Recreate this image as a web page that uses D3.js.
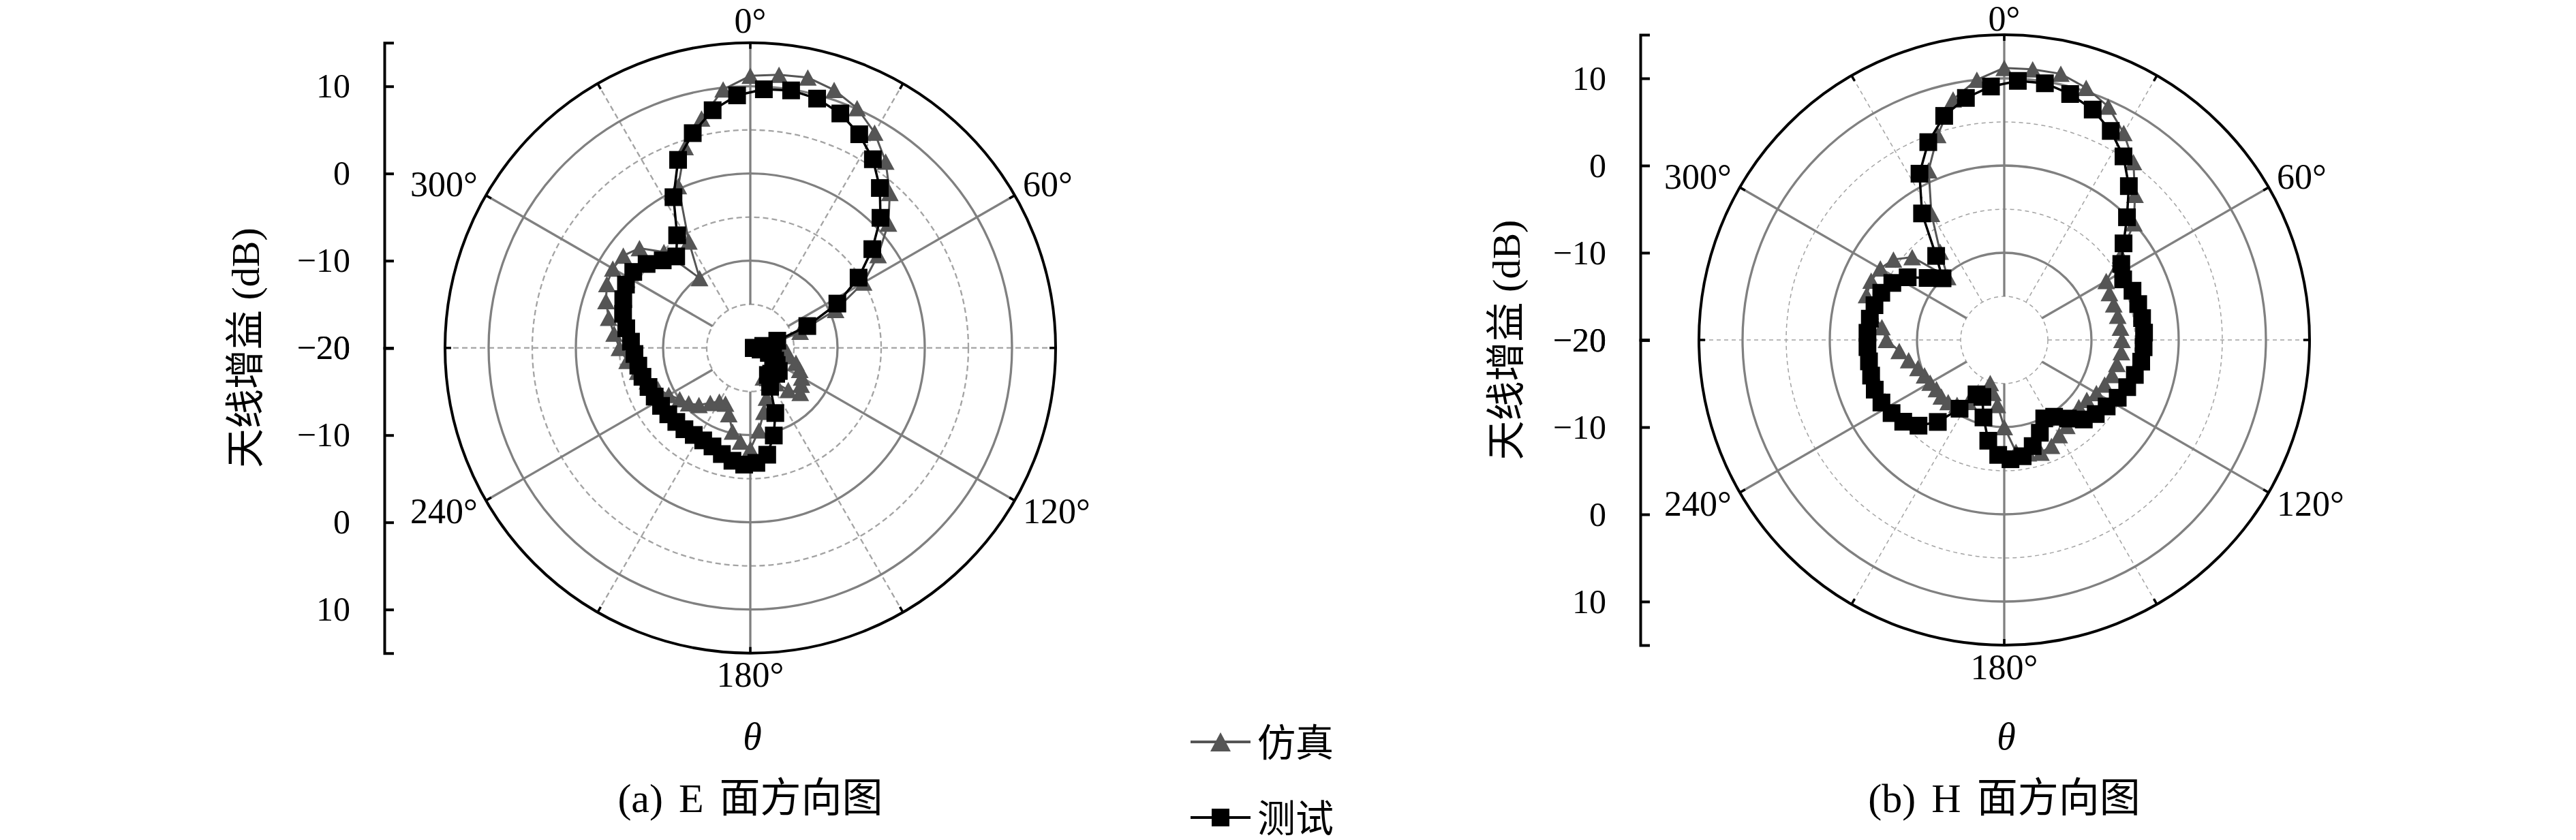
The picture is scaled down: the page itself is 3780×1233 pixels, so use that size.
<!DOCTYPE html>
<html><head><meta charset="utf-8">
<script src="https://cdn.jsdelivr.net/npm/d3@7"></script>
<style>body{margin:0;background:#fff}svg{display:block}</style>
</head><body>
<svg id="c" width="3780" height="1233"></svg>
<script>
// ---------------- data ----------------
const simAngles = d3.range(0, 360, 6);   // 仿真 sample angles (deg)
const meaAngles = d3.range(3, 360, 6);   // 测试 sample angles (deg)
const E_sim = [11.2,11.5,11.7,11.1,10.1,8.5,6.4,3.9,1.3,-1.9,
  -5.0,-9.3,-14.0,-17.0,-19.0,-17.5,-15.8,-15.5,-14.5,-13.8,
  -13.2,-12.8,-12.3,-13.5,-15.0,-16.0,-16.3,-14.0,-12.5,-10.5,
  -8.4,-9.2,-10.2,-12.0,-13.0,-12.9,-12.2,-11.2,-10.5,-10.0,
  -9.2,-8.4,-7.6,-6.8,-5.8,-5.0,-4.3,-3.4,-2.6,-2.0,
  -1.8,-2.0,-2.9,-5.2,-10.1,-5.9,0.3,4.2,6.9,9.8];
const E_mea = [9.7,9.9,9.6,8.8,7.5,5.8,3.6,1.1,-2.0,-5.2,
  -8.8,-13.0,-16.8,-18.5,-19.6,-19.6,-18.8,-17.8,-17.2,-16.8,
  -16.4,-15.8,-15.8,-16.2,-16.3,-15.0,-12.0,-9.6,-7.6,-6.8,
  -6.6,-6.9,-7.4,-7.9,-8.1,-8.1,-8.0,-8.0,-7.9,-7.8,
  -7.7,-7.5,-7.2,-7.0,-6.7,-6.3,-5.6,-4.9,-4.4,-4.0,
  -4.0,-4.7,-5.8,-6.5,-4.6,-0.6,3.1,5.5,7.6,9.0];
const H_sim = [11.2,11.2,11.2,10.4,9.3,7.4,5.2,2.4,0.0,-3.5,
  -6.5,-6.8,-6.8,-6.7,-6.6,-6.5,-6.5,-6.8,-7.0,-7.4,
  -7.8,-8.3,-8.5,-8.2,-7.8,-7.4,-6.7,-6.4,-6.7,-7.1,
  -10.0,-12.5,-13.8,-14.8,-13.2,-11.8,-10.8,-10.4,-10.3,-10.4,
  -10.2,-10.0,-9.6,-8.8,-7.9,-6.5,-5.9,-4.3,-3.4,-3.3,
  -3.6,-4.3,-5.8,-10.3,-7.5,-3.3,1.3,4.7,8.2,10.0];
const H_mea = [9.75,9.8,9.2,8.3,6.9,5.1,2.7,-0.1,-2.4,-4.0,
  -4.7,-4.25,-4.1,-4.0,-3.95,-4.0,-4.1,-4.5,-4.9,-5.4,
  -6.0,-6.5,-7.1,-8.4,-9.5,-9.9,-8.6,-7.4,-6.5,-6.3,
  -6.8,-8.3,-10.8,-13.0,-13.0,-10.6,-7.9,-6.1,-5.1,-4.6,
  -4.2,-4.1,-4.2,-4.3,-4.3,-4.3,-4.4,-4.6,-4.9,-5.6,
  -6.8,-8.7,-10.0,-7.6,-2.7,1.4,4.3,6.6,8.1,9.1];
const radialTicks = [-20, -10, 0, 10];
const angleLabels = [0, 60, 120, 180, 240, 300];
const seriesNames = ["仿真", "测试"];
const captions = ["(a) E 面方向图", "(b) H 面方向图"];
const yTitle = "天线增益 (dB)";

// ---------------- style ----------------
const SERIF = "'Liberation Serif','Noto Sans CJK SC',serif";
const SIMC = "#555555", MEAC = "#000000", GRIDC = "#808080", DASHC = "#a3a3a3";
const R = 448;
const rScale = d3.scaleLinear().domain([-20, 15]).range([0, R]);
const svg = d3.select("#c");

const triPath = (w, h) => `M0,${-h/2}L${w/2},${h/2}L${-w/2},${h/2}Z`;
const sqPath = s => `M${-s/2},${-s/2}h${s}v${s}h${-s}Z`;
const fmt = d => d < 0 ? "\u2212" + Math.abs(d) : String(d);

const panels = [
  {cx: 1101, cy: 510.7, axisX: 564, titleX: 360, sim: E_sim, mea: E_mea, cap: captions[0], dashW: 2.3, dash: "8,5"},
  {cx: 2941, cy: 499, axisX: 2407, titleX: 2210, sim: H_sim, mea: H_mea, cap: captions[1], dashW: 1.5, dash: "6,5"}
];

panels.forEach(p => {
  const g = svg.append("g");
  const pt = (a, v) => { const r = rScale(v), t = a * Math.PI / 180; return [p.cx + r * Math.sin(t), p.cy - r * Math.cos(t)]; };

  // dashed grid circles
  [-15, -5, 5].forEach(v => g.append("circle").attr("cx", p.cx).attr("cy", p.cy).attr("r", rScale(v))
    .attr("fill", "none").attr("stroke", DASHC).attr("stroke-width", p.dashW).attr("stroke-dasharray", p.dash));
  // dashed spokes
  d3.range(30, 360, 60).forEach(a => {
    const [x1, y1] = pt(a, -15), [x2, y2] = pt(a, 15);
    g.append("line").attr("x1", x1).attr("y1", y1).attr("x2", x2).attr("y2", y2)
      .attr("stroke", DASHC).attr("stroke-width", p.dashW).attr("stroke-dasharray", p.dash);
  });
  // solid grid circles
  [-10, 0, 10].forEach(v => g.append("circle").attr("cx", p.cx).attr("cy", p.cy).attr("r", rScale(v))
    .attr("fill", "none").attr("stroke", GRIDC).attr("stroke-width", 3.3));
  // solid spokes
  d3.range(0, 360, 60).forEach(a => {
    const [x1, y1] = pt(a, -15), [x2, y2] = pt(a, 15);
    g.append("line").attr("x1", x1).attr("y1", y1).attr("x2", x2).attr("y2", y2)
      .attr("stroke", GRIDC).attr("stroke-width", 3.3);
  });
  // outer spine
  g.append("circle").attr("cx", p.cx).attr("cy", p.cy).attr("r", R)
    .attr("fill", "none").attr("stroke", "#000").attr("stroke-width", 4);
  // theta ticks
  d3.range(0, 360, 30).forEach(a => {
    const t = a * Math.PI / 180;
    g.append("line")
      .attr("x1", p.cx + (R - 9) * Math.sin(t)).attr("y1", p.cy - (R - 9) * Math.cos(t))
      .attr("x2", p.cx + R * Math.sin(t)).attr("y2", p.cy - R * Math.cos(t))
      .attr("stroke", "#000").attr("stroke-width", 3.5);
  });
  // theta labels
  angleLabels.forEach(a => {
    const t = a * Math.PI / 180, s = Math.sin(t), c = Math.cos(t);
    const anchor = s > 0.1 ? "start" : (s < -0.1 ? "end" : "middle");
    let y = p.cy - (R + 32) * c;
    if (a === 0) y = Math.max(y, 27);
    g.append("text").attr("x", p.cx + (R + 14) * s).attr("y", y)
      .attr("text-anchor", anchor).attr("dominant-baseline", "central")
      .attr("font-family", SERIF).attr("font-size", 52).text(a + "°");
  });

  // series
  const mk = (angles, vals) => angles.map((a, i) => pt(a, vals[i]));
  const simPts = mk(simAngles, p.sim), meaPts = mk(meaAngles, p.mea);
  const line = d3.line().curve(d3.curveLinearClosed);
  g.append("path").attr("d", line(simPts)).attr("fill", "none").attr("stroke", SIMC).attr("stroke-width", 3);
  g.selectAll(null).data(simPts).enter().append("path").attr("d", triPath(26, 24))
    .attr("transform", d => `translate(${d[0]},${d[1]})`).attr("fill", SIMC);
  g.append("path").attr("d", line(meaPts)).attr("fill", "none").attr("stroke", MEAC).attr("stroke-width", 3.5);
  g.selectAll(null).data(meaPts).enter().append("path").attr("d", sqPath(26))
    .attr("transform", d => `translate(${d[0]},${d[1]})`).attr("fill", MEAC);

  // radial (y) axis: mirrored halves
  const yTop = d3.scaleLinear().domain([-20, 15]).range([p.cy, p.cy - R]);
  const yBot = d3.scaleLinear().domain([-20, 15]).range([p.cy, p.cy + R]);
  [yTop, yBot].forEach(sc => {
    const ax = g.append("g").attr("transform", `translate(${p.axisX},0)`)
      .call(d3.axisLeft(sc).tickValues(radialTicks).tickFormat(fmt).tickSizeInner(-14).tickSizeOuter(-14).tickPadding(50));
    ax.select(".domain").attr("stroke", "#000").attr("stroke-width", 4);
    ax.selectAll(".tick line").attr("stroke", "#000").attr("stroke-width", 4);
    ax.selectAll(".tick text").attr("font-family", SERIF).attr("font-size", 50).attr("fill", "#000");
  });
  g.append("text").attr("transform", `translate(${p.titleX},${p.cy}) rotate(-90)`)
    .attr("text-anchor", "middle").attr("dominant-baseline", "central")
    .attr("font-family", SERIF).attr("font-size", 58).text(yTitle);

  // theta label and caption
  g.append("text").attr("x", p.cx + 3).attr("y", 1100).attr("text-anchor", "middle")
    .attr("font-family", SERIF).attr("font-style", "italic").attr("font-size", 56).text("θ");
  g.append("text").attr("x", p.cx).attr("y", 1192).attr("text-anchor", "middle")
    .attr("font-family", SERIF).attr("font-size", 60).attr("word-spacing", 8).text(p.cap);
});

// legend
const leg = svg.append("g");
const legRows = [{y: 1089, color: SIMC, shape: triPath(30, 28)}, {y: 1200, color: MEAC, shape: sqPath(26)}];
legRows.forEach((r, i) => {
  leg.append("line").attr("x1", 1747).attr("x2", 1835).attr("y1", r.y).attr("y2", r.y)
    .attr("stroke", r.color).attr("stroke-width", 4);
  leg.append("path").attr("d", r.shape).attr("transform", `translate(1791,${r.y})`).attr("fill", r.color);
  leg.append("text").attr("x", 1845).attr("y", r.y + 2).attr("dominant-baseline", "central")
    .attr("font-family", SERIF).attr("font-size", 56).text(seriesNames[i]);
});
</script>
</body></html>
